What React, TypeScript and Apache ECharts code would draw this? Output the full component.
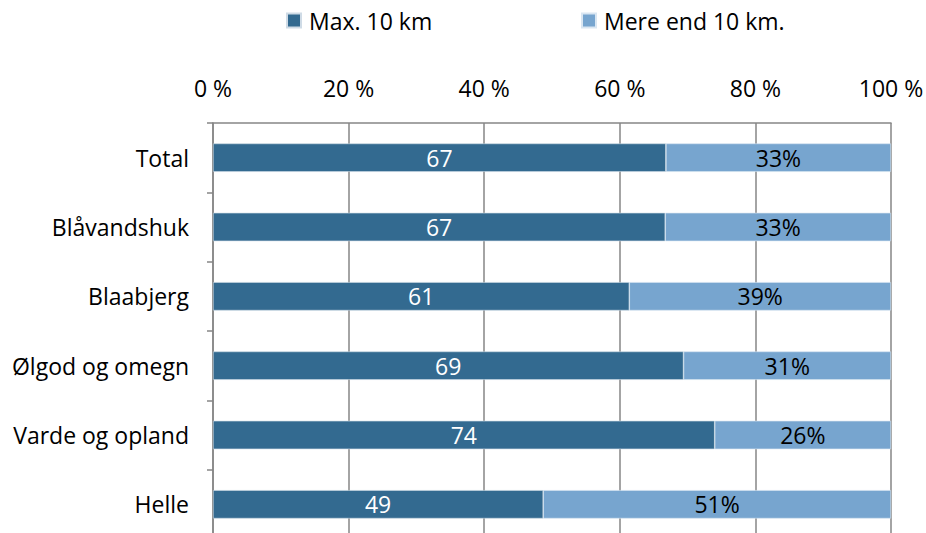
import React, { useEffect, useRef } from "react";
import * as echarts from "echarts";

const categories = ["Total", "Blåvandshuk", "Blaabjerg", "Ølgod og omegn", "Varde og opland", "Helle"];
const maxTen = [66.8, 66.7, 61.4, 69.4, 74.0, 48.7];
const overTen = [33.2, 33.3, 38.6, 30.6, 26.0, 51.3];
const seriesNames = ["Max. 10 km", "Mere end 10 km."];
const FONT = "Open Sans";
const FS = 23;

export default function App() {
  const ref = useRef<HTMLDivElement>(null);
  useEffect(() => {
    const chart = echarts.init(ref.current!, null, { renderer: "svg" });
    const legendText = { fontSize: FS, color: "#000", fontFamily: FONT, padding: [0, 0, 0, 3] };
    chart.setOption({
      animation: false,
      textStyle: { fontFamily: FONT },
      legend: [
        {
          data: [seriesNames[0]],
          left: 281,
          top: 4,
          itemWidth: 14,
          itemHeight: 14,
          icon: "rect",
          textStyle: legendText,
        },
        {
          data: [seriesNames[1]],
          left: 576,
          top: 4,
          itemWidth: 14,
          itemHeight: 14,
          icon: "rect",
          textStyle: legendText,
        },
      ],
      grid: { left: 213, top: 123, width: 678, height: 416, containLabel: false, outerBoundsMode: "none" },
      xAxis: {
        type: "value",
        position: "top",
        min: 0,
        max: 100,
        interval: 20,
        axisLine: { show: true, lineStyle: { color: "#868686", width: 1.5 } },
        axisTick: { show: false },
        splitLine: { show: true, lineStyle: { color: "#868686", width: 1.5 } },
        axisLabel: {
          formatter: "{value} %",
          fontSize: FS,
          color: "#000",
          margin: 24,
          fontFamily: FONT,
        },
      },
      yAxis: {
        type: "category",
        inverse: true,
        data: categories,
        axisLine: { show: true, lineStyle: { color: "#868686", width: 1.5 } },
        axisTick: { show: true, length: 6, lineStyle: { color: "#868686", width: 1.5 } },
        axisLabel: { fontSize: FS, color: "#000", margin: 24, fontFamily: FONT },
      },
      series: [
        {
          name: seriesNames[0],
          type: "bar",
          stack: "a",
          data: maxTen,
          barWidth: "41%",
          itemStyle: { color: "#336A90", borderColor: "#cfdbe6", borderWidth: 0.6 },
          label: {
            show: true,
            position: "inside",
            color: "#fff",
            fontSize: FS,
            fontFamily: FONT,
            formatter: (p: any) => String(Math.round(p.value)),
          },
        },
        {
          name: seriesNames[1],
          type: "bar",
          stack: "a",
          data: overTen,
          barWidth: "41%",
          itemStyle: { color: "#77A5CF", borderColor: "#d9e6f2", borderWidth: 0.6 },
          label: {
            show: true,
            position: "inside",
            color: "#000",
            fontSize: FS,
            fontFamily: FONT,
            formatter: (p: any) => Math.round(p.value) + "%",
          },
        },
      ],
    });
    return () => chart.dispose();
  }, []);
  return <div ref={ref} style={{ width: 926, height: 533, position: "absolute", left: 0, top: 0 }} />;
}
